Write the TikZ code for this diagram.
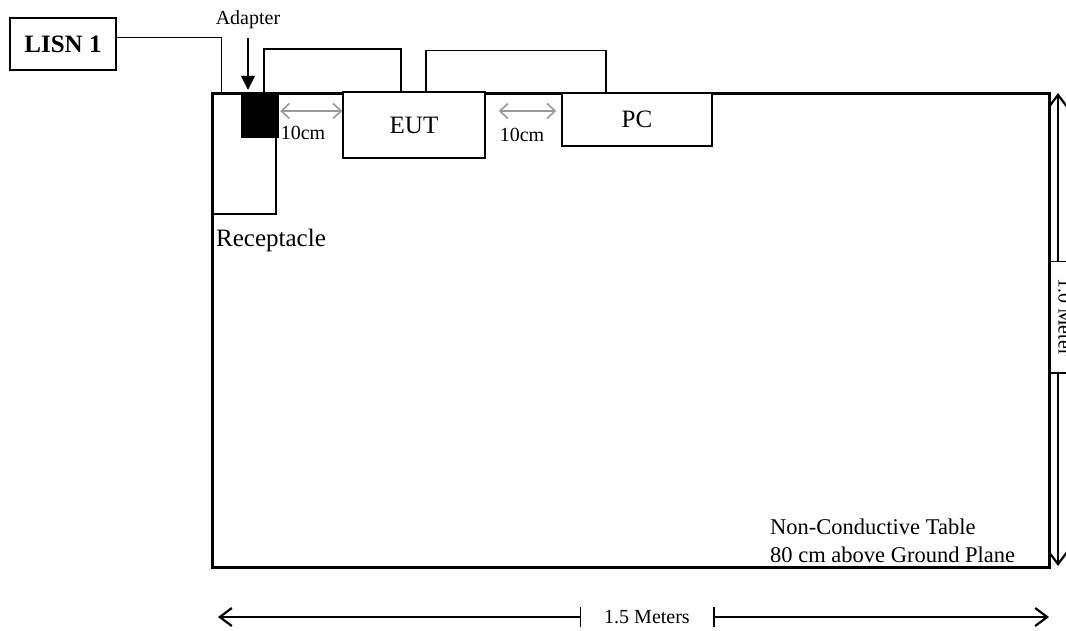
\documentclass[tikz,border=0pt]{standalone}
\usepackage{fontspec}
\setmainfont{Liberation Serif}
\usetikzlibrary{positioning,arrows.meta}

\begin{document}
\begin{tikzpicture}[
  x=1pt, y=-1pt,
  font=\fontsize{25}{28}\selectfont,
  box/.style={draw, line width=1.5pt, inner sep=0pt},
  lbl/.style={font=\fontsize{20}{22}\selectfont, inner sep=0pt},
  cable/.style={line width=1.5pt},
  gap/.style={{Straight Barb[length=8pt,width=15pt]}-{Straight Barb[length=8pt,width=15pt]},
    line width=1.6pt, draw=black!40},
  dim/.style={{Bar[width=20pt]}-{Straight Barb[length=12pt,width=18pt,line width=2.2pt]}, line width=1.5pt},
  point/.style={-{Triangle[length=14pt,width=14pt]}, line width=1.5pt}
]
\useasboundingbox (0,0) rectangle (1066,630);

% ================= table and equipment =================
\node[draw, line width=3pt, inner sep=0pt, minimum width=837pt, minimum height=474pt] (table) at (630.5,330) {};
\node[box, minimum width=64pt, minimum height=121pt] (recp) at (244,153.5) {};
\node[draw, fill=black, inner sep=0pt, minimum width=37pt, minimum height=44pt] (adapt) at (259.5,115) {};
\node[box, minimum width=106pt, minimum height=52pt, font=\bfseries\fontsize{25}{28}\selectfont] (lisn) at (63,44) {LISN 1};
\node[box, fill=white, minimum width=142pt, minimum height=66pt] (eut) at (414,125) {EUT};
\node[box, fill=white, minimum width=150pt, minimum height=53pt] (pc) at (637,119.5) {PC};

% ================= labels =================
\node[lbl] (adaptlbl) at (248,20) {Adapter};
\node[anchor=west, inner sep=0pt] (recplbl) at (216,240) {Receptacle};
\node[lbl] (gap1) at (303,133) {10cm};
\node[lbl] (gap2) at (522,135) {10cm};
\node[anchor=west, align=left, inner sep=0pt, font=\fontsize{22.5}{28}\selectfont] (tablelbl) at (770,541) {Non-Conductive Table\\80 cm above Ground Plane};

% ================= cables =================
\draw[cable] ([yshift=6.5pt]lisn.east) -| ([xshift=11pt]table.north west);
\draw[cable] ([xshift=4.5pt]adapt.north) -- ++(0,-44) -| ([xshift=-13pt]eut.north);
\draw[cable] ([xshift=12pt]eut.north) -- ++(0,-41) -| ([xshift=-31pt]pc.north);

% ================= pointer and spacing arrows =================
\draw[point, shorten <=9pt, shorten >=3pt] (adaptlbl.south) -- (adaptlbl.south |- adapt.north);
\draw[gap, shorten <=2pt] ([yshift=4pt]adapt.east) -- ([yshift=4pt]adapt.east -| eut.west);
\draw[gap, shorten <=13pt, shorten >=5pt] ([yshift=14pt]eut.east) -- ([yshift=14pt]eut.east -| pc.west);

% ================= dimensions =================
\coordinate (wl) at (218,617);
\coordinate (wr) at (1049,617);
\coordinate (ht) at (1058,93);
\coordinate (hb) at (1058,566);
\node[lbl] (widthlbl) at (647,617) {1.5 Meters};
\node[lbl, rotate=-90] (heightlbl) at (1065,317) {1.0 Meter};
\draw[dim] ([xshift=-66pt]widthlbl.center) -- (wl);
\draw[dim] ([xshift=66pt]widthlbl.center) -- (wr);
\draw[dim] ([yshift=55pt]heightlbl.center -| ht) -- (ht);
\draw[dim] ([yshift=-55pt]heightlbl.center -| hb) -- (hb);

\end{tikzpicture}
\end{document}
